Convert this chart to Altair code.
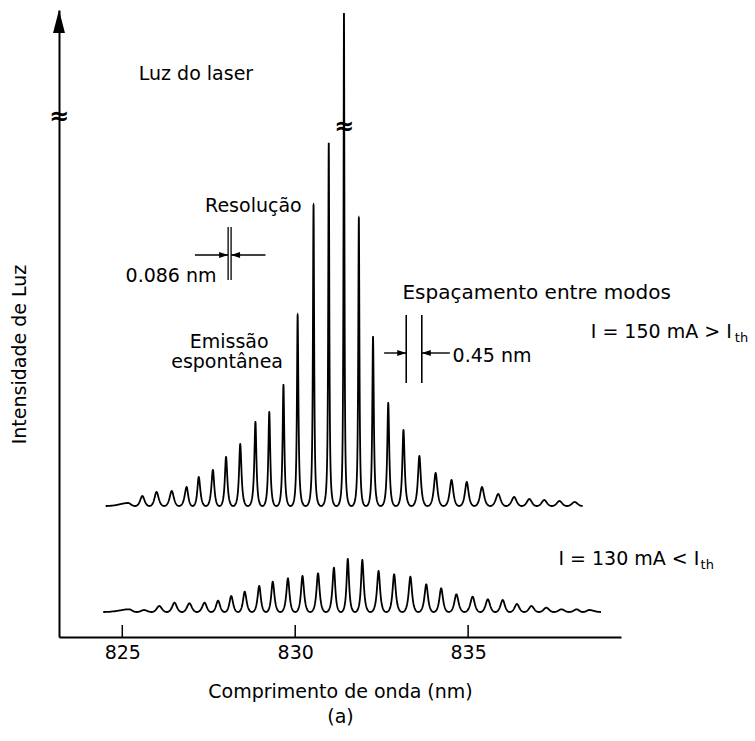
import numpy as np
import pandas as pd
import altair as alt

FONT = "DejaVu Sans"

# Longitudinal modes, I = 150 mA (above threshold): wavelength (nm) and peak height
# above the trace baseline (arbitrary intensity units)
modes_150_nm = [825.17, 825.58, 825.99, 826.43, 826.86, 827.21, 827.62, 828.00,
                828.41, 828.85, 829.25, 829.66, 830.07, 830.53, 830.97, 831.41,
                831.84, 832.25, 832.69, 833.13, 833.59, 834.06, 834.52, 834.96,
                835.40, 835.87, 836.33, 836.77, 837.20, 837.64, 838.08]
modes_150_h = [3, 10, 14, 15, 19, 29, 36, 49, 62, 84, 94, 121, 191, 301, 363, 493,
               288, 169, 103, 76, 50, 33, 26, 24, 19, 12, 9, 7, 6, 5, 4]

# Longitudinal modes, I = 130 mA (below threshold)
modes_130_nm = [825.20, 825.63, 826.07, 826.51, 826.94, 827.38, 827.77, 828.15,
                828.54, 828.96, 829.35, 829.79, 830.21, 830.66, 831.12, 831.52,
                831.94, 832.41, 832.86, 833.33, 833.79, 834.22, 834.66, 835.13,
                835.57, 836.00, 836.41, 836.83, 837.26, 837.70, 838.14, 838.50]
modes_130_h = [2.7, 2, 6, 9.3, 8.7, 9.3, 11.3, 16, 20.3, 26, 30.3, 33.7, 36, 38.7,
               44.3, 53, 52, 41, 37.7, 35.3, 27.7, 23.7, 17.7, 15.3, 12.7, 12, 8,
               6, 4.3, 2.7, 2.7, 2]

# wavelength range covered by each recorded trace
span_150 = [824.52, 838.31]
span_130 = [824.45, 838.84]

tick_values = [825, 830, 835]

# vertical offset of each trace in the figure
BASE_150 = 131
BASE_130 = 25


def mode_trace(centers, heights, base, start, end, n=81):
    """Draw each mode as an Airy-type line inside its own cell between neighbours."""
    c = np.asarray(centers, float)
    h = np.asarray(heights, float)
    edges = np.concatenate([[start], (c[:-1] + c[1:]) / 2, [end]])
    t = np.linspace(-1, 1, n)
    d = t * np.abs(t)  # dense sampling near the mode peak
    xs, ys = [], []
    for k in range(len(c)):
        finesse = 0.3 + 0.15 * h[k]
        left = c[k] - edges[k]
        right = edges[k + 1] - c[k]
        x = np.where(d < 0, c[k] + d * left, c[k] + d * right)
        a = 1.0 / (1.0 + finesse * np.sin(np.pi * d / 2) ** 2)
        a1 = 1.0 / (1.0 + finesse)
        y = base + h[k] * (a - a1) / (1 - a1)
        s = 0 if k == 0 else 1
        xs.extend(np.round(x[s:], 4))
        ys.extend(np.round(y[s:], 2))
    return xs, ys


x150, y150 = mode_trace(modes_150_nm, modes_150_h, BASE_150, *span_150)
x130, y130 = mode_trace(modes_130_nm, modes_130_h, BASE_130, *span_130)
spec = pd.DataFrame({
    "nm": x150 + x130,
    "i": y150 + y130,
    "trace": ["150 mA"] * len(x150) + ["130 mA"] * len(x130),
})

x_scale = alt.Scale(domain=[823.17, 839.42], nice=False, zero=False)
y_scale = alt.Scale(domain=[0, 627], nice=False, zero=False)

x_axis = alt.Axis(
    values=tick_values, format="d", ticks=False, grid=False,
    domainColor="black", domainWidth=2,
    labelFont=FONT, labelFontSize=19, labelColor="black", labelPadding=6,
    title=["Comprimento de onda (nm)", "(a)"], titleFont=FONT, titleFontSize=19,
    titleFontWeight="normal", titleColor="black", titleBaseline="top",
    titleLineHeight=25, titleY=45,
)
y_axis = alt.Axis(
    ticks=False, labels=False, grid=False, domainColor="black", domainWidth=2,
    title="Intensidade de Luz", titleFont=FONT, titleFontSize=19,
    titleFontWeight="normal", titleColor="black", titleAlign="center",
    titleBaseline="middle", titleX=-40, titleY=344,
)


def X(field):
    return alt.X(field, scale=x_scale)


def Y(field):
    return alt.Y(field, scale=y_scale)


spectra = alt.Chart(spec).mark_line(color="black", strokeWidth=1.8).encode(
    x=alt.X("nm:Q", scale=x_scale, axis=x_axis),
    y=alt.Y("i:Q", scale=y_scale, axis=y_axis),
    detail="trace:N",
)

# inward tick marks on the wavelength axis
ticks = alt.Chart(pd.DataFrame({"nm": tick_values, "y0": [0] * 3, "y1": [12] * 3})).mark_rule(
    color="black", strokeWidth=1.5
).encode(x=X("nm:Q"), y=Y("y0:Q"), y2="y1:Q")

# arrow head on top of the intensity axis
axis_arrow = alt.Chart(pd.DataFrame({"nm": [823.17], "v": [627]})).mark_point(
    shape="M0,0L-0.26,1L0.26,1Z", size=2116, filled=True, color="black", opacity=1
).encode(x=X("nm:Q"), y=Y("v:Q"))

# axis breaks
breaks = alt.Chart(pd.DataFrame({"nm": [823.17, 831.41], "v": [520, 510], "t": ["≈", "≈"]})).mark_text(
    font=FONT, fontSize=24, fontWeight="bold", baseline="middle", align="center", color="black"
).encode(x=X("nm:Q"), y=Y("v:Q"), text="t:N")

# resolution (0.086 nm) and mode spacing (0.45 nm) markers
res_lo, res_hi = 828.06, 828.06 + 0.086
sp_lo, sp_hi = 833.21, 833.21 + 0.45
markers = alt.Chart(pd.DataFrame({
    "nm": [res_lo, res_hi, sp_lo, sp_hi],
    "v0": [357, 357, 254, 254],
    "v1": [410, 410, 322, 322],
    "w": [1.3, 1.3, 1.6, 1.6],
})).mark_rule(color="black").encode(
    x=X("nm:Q"), y=Y("v0:Q"), y2="v1:Q",
    strokeWidth=alt.StrokeWidth("w:Q", scale=None, legend=None),
)

shafts = alt.Chart(pd.DataFrame({
    "a": [827.10, res_hi, 832.57, sp_hi],
    "b": [res_lo, 829.14, sp_lo, 834.47],
    "v": [382, 382, 284, 284],
})).mark_rule(color="black", strokeWidth=1.4).encode(x=X("a:Q"), x2="b:Q", y=Y("v:Q"))

heads_right = alt.Chart(pd.DataFrame({"nm": [res_lo, sp_lo], "v": [382, 284]})).mark_point(
    shape="M0,0L-1,-0.33L-1,0.33Z", size=324, filled=True, color="black", opacity=1
).encode(x=X("nm:Q"), y=Y("v:Q"))

heads_left = alt.Chart(pd.DataFrame({"nm": [res_hi, sp_hi], "v": [382, 284]})).mark_point(
    shape="M0,0L1,-0.33L1,0.33Z", size=324, filled=True, color="black", opacity=1
).encode(x=X("nm:Q"), y=Y("v:Q"))


def label(text, nm, v, size=19, align="center"):
    return alt.Chart(pd.DataFrame({"nm": [nm], "v": [v], "t": [text]})).mark_text(
        font=FONT, fontSize=size, align=align, baseline="alphabetic", color="black"
    ).encode(x=X("nm:Q"), y=Y("v:Q"), text="t:N")


labels = [
    label("Luz do laser", 827.13, 557),
    label("Resolução", 828.79, 425),
    label("0.086 nm", 826.41, 355),
    label("Emissão", 828.09, 289),
    label("espontânea", 828.03, 269),
    label("Espaçamento entre modos", 833.10, 338, size=20, align="left"),
    label("0.45 nm", 834.55, 275, align="left"),
    label("I = 150 mA > I", 838.545, 299, align="left"),
    label("th", 842.71, 295, size=13, align="left"),
    label("I = 130 mA < I", 837.61, 72, align="left"),
    label("th", 841.72, 68.5, size=13, align="left"),
]

chart = alt.layer(
    spectra, ticks, axis_arrow, breaks, markers, shafts, heads_right, heads_left, *labels
).properties(
    width=562, height=627,
    autosize=alt.AutoSizeParams(type="none"),
    padding={"left": 59, "top": 10, "right": 134, "bottom": 104},
    background="white",
).configure_view(strokeWidth=0)

chart.save("out.html", embed_options={"renderer": "svg", "actions": False})
